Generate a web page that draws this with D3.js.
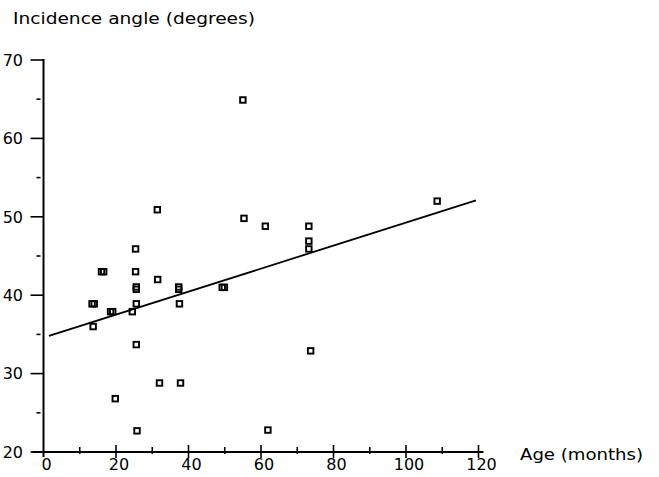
<!DOCTYPE html>
<html>
<head>
<meta charset="utf-8">
<script src="https://cdn.jsdelivr.net/npm/d3@7"></script>
<style>
  body { margin: 0; background: #fff; }
  svg { display: block; }
  text { font-family: "DejaVu Sans", sans-serif; fill: #000; }
</style>
</head>
<body>
<div class="chart"></div>
<script>
// age (months) and incidence angle (degrees)
const ages = [55, 31.4, 55.3, 61.2, 73.2, 73.2, 73.2, 108.6, 25.4, 16.0, 16.6, 25.4, 31.5,
    25.6, 25.6, 37.3, 37.3, 49.3, 49.9, 13.4, 14.0, 25.6, 37.5, 18.5, 19.1, 24.5,
    13.7, 25.6, 73.7, 32.0, 37.8, 19.8, 25.8, 61.9];
const angles = [64.9, 50.9, 49.8, 48.8, 48.8, 46.9, 45.9, 52.0, 45.9, 43.0, 43.0, 43.0, 42.0,
    41.05, 40.75, 41.05, 40.75, 41.0, 41.0, 38.9, 38.9, 38.9, 38.9, 37.9, 37.9, 37.9,
    36.0, 33.7, 32.9, 28.8, 28.8, 26.8, 22.7, 22.8];

// regression line end points
const fitAges = [1.5, 119.3];
const fitAngles = [34.8, 52.1];

const xTicks = [0, 20, 40, 60, 80, 100, 120];
const xMinorTicks = [10, 30, 50, 70, 90, 110];
const yTicks = [20, 30, 40, 50, 60, 70];
const yMinorTicks = [25, 35, 45, 55, 65];

const width = 659;
const height = 477;

const svg = d3.select('.chart').append('svg')
    .attr('width', width)
    .attr('height', height);

const xScale = d3.scaleLinear().domain([0, 120]).range([43.5, 478.5]);
const yScale = d3.scaleLinear().domain([20, 70]).range([452, 60]);

// y axis
const yAxis = svg.append('g').attr('class', 'y-axis');
yAxis.append('line')
    .attr('x1', xScale(0)).attr('x2', xScale(0))
    .attr('y1', yScale(70) - 1).attr('y2', yScale(20) + 5)
    .attr('stroke', '#000').attr('stroke-width', 2);
yAxis.selectAll('.major').data(yTicks).join('line')
    .attr('class', 'major')
    .attr('x1', xScale(0) - 13).attr('x2', xScale(0))
    .attr('y1', d => yScale(d)).attr('y2', d => yScale(d))
    .attr('stroke', '#000').attr('stroke-width', 1.6);
yAxis.selectAll('.minor').data(yMinorTicks).join('line')
    .attr('class', 'minor')
    .attr('x1', xScale(0) - 7).attr('x2', xScale(0) - 3)
    .attr('y1', d => yScale(d)).attr('y2', d => yScale(d))
    .attr('stroke', '#000').attr('stroke-width', 1.6);
yAxis.selectAll('text').data(yTicks).join('text')
    .attr('x', 23)
    .attr('y', d => yScale(d))
    .attr('dy', '0.36em')
    .attr('text-anchor', 'end')
    .style('font-size', '16px')
    .text(d => d);

// x axis
const xAxis = svg.append('g').attr('class', 'x-axis');
xAxis.append('line')
    .attr('x1', xScale(0) - 11).attr('x2', xScale(120) + 5)
    .attr('y1', yScale(20)).attr('y2', yScale(20))
    .attr('stroke', '#000').attr('stroke-width', 2);
xAxis.selectAll('.major').data(xTicks.slice(1)).join('line')
    .attr('class', 'major')
    .attr('x1', d => xScale(d)).attr('x2', d => xScale(d))
    .attr('y1', yScale(20) - 7).attr('y2', yScale(20) + 6)
    .attr('stroke', '#000').attr('stroke-width', 1.6);
xAxis.selectAll('.minor').data(xMinorTicks).join('line')
    .attr('class', 'minor')
    .attr('x1', d => xScale(d)).attr('x2', d => xScale(d))
    .attr('y1', yScale(20) - 5).attr('y2', yScale(20) + 2)
    .attr('stroke', '#000').attr('stroke-width', 1.6);
xAxis.selectAll('text').data(xTicks).join('text')
    .attr('x', d => xScale(d) + 3)
    .attr('y', 470)
    .attr('text-anchor', 'middle')
    .style('font-size', '16px')
    .text(d => d);

// axis titles
svg.append('text')
    .attr('x', 13).attr('y', 24)
    .attr('textLength', 242).attr('lengthAdjust', 'spacingAndGlyphs')
    .style('font-size', '15px')
    .text('Incidence angle (degrees)');
svg.append('text')
    .attr('x', 520).attr('y', 460)
    .attr('textLength', 123).attr('lengthAdjust', 'spacingAndGlyphs')
    .style('font-size', '16px')
    .text('Age (months)');

// regression line
const line = d3.line().x(d => xScale(d[0])).y(d => yScale(d[1]));
svg.append('path')
    .datum(d3.zip(fitAges, fitAngles))
    .attr('d', line)
    .attr('fill', 'none')
    .attr('stroke', '#000')
    .attr('stroke-width', 1.8);

// points
const size = 5.5;
svg.append('g').selectAll('rect').data(d3.zip(ages, angles)).join('rect')
    .attr('x', d => xScale(d[0]) - size / 2)
    .attr('y', d => yScale(d[1]) - size / 2)
    .attr('width', size)
    .attr('height', size)
    .attr('fill', 'none')
    .attr('stroke', '#000')
    .attr('stroke-width', 1.9);
</script>
</body>
</html>
